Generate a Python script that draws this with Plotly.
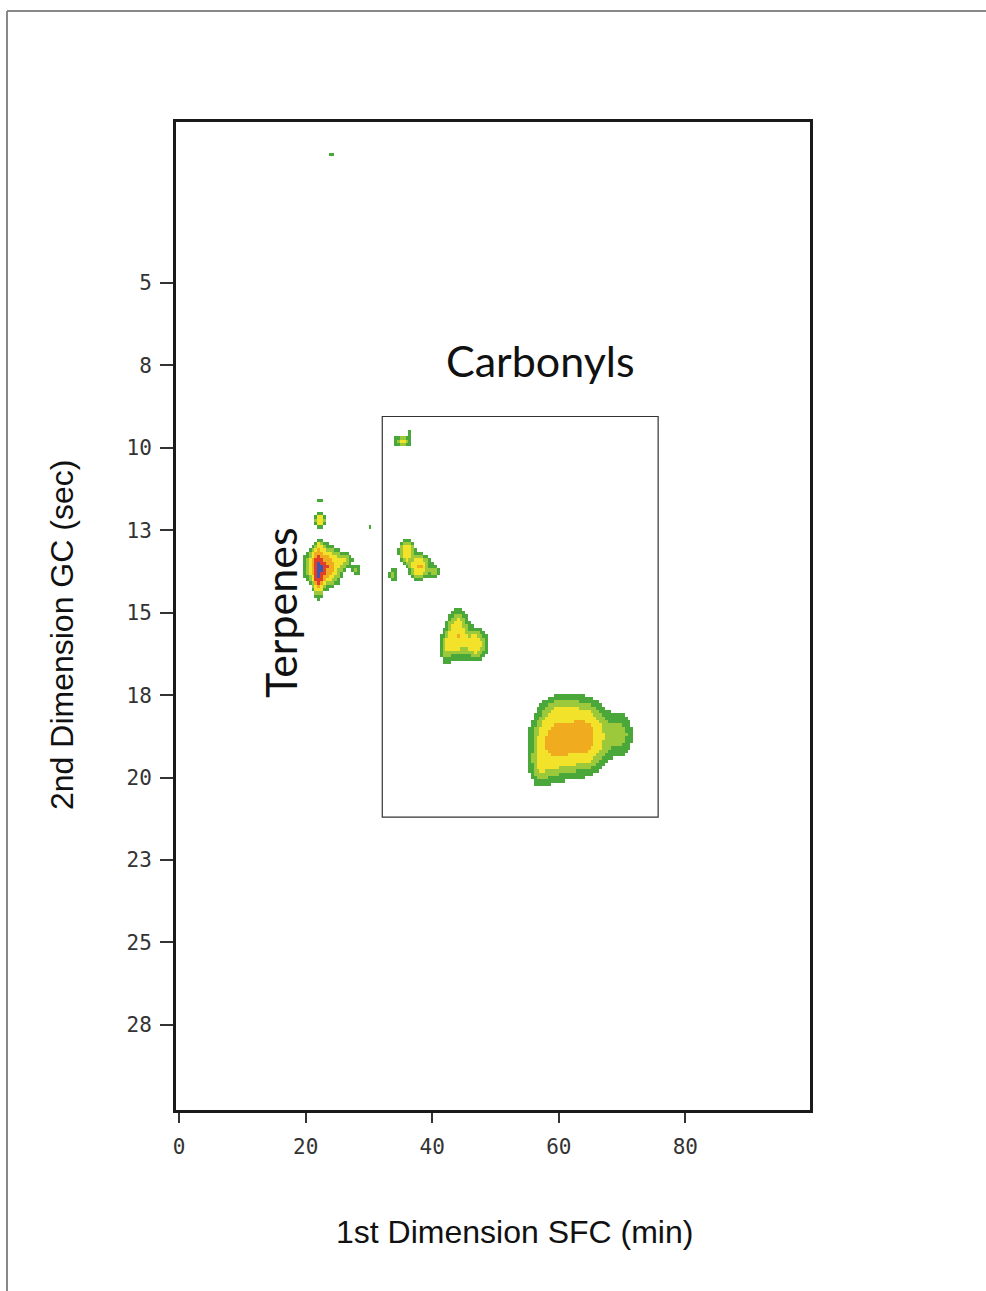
import numpy as np
import plotly.graph_objects as go

# ---------------- data ----------------
# chromatographic peaks: centre on 1st dim (min), centre on 2nd dim (sec), height, width x, width y
peak_x = [22.0, 22.8, 26.0, 28.0, 22.2, 22.3, 22.2, 30.2, 24.2,
          35.3, 36.4,
          36.0, 38.0, 33.8, 40.3,
          44.0, 46.8, 42.2,
          59.5, 64.0, 69.5, 57.0, 60.5]
peak_y = [13.75, 13.6, 13.4, 13.7, 13.0, 12.2, 11.6, 12.4, 1.06,
          9.8, 9.55,
          13.15, 13.6, 13.85, 13.75,
          15.65, 15.95, 16.05,
          18.9, 18.75, 18.7, 19.7, 17.95]
peak_h = [1.05, 0.9, 0.18, 0.13, 0.22, 0.42, 0.1, 0.09, 0.1,
          0.26, 0.1,
          0.45, 0.5, 0.16, 0.18,
          0.45, 0.35, 0.22,
          0.6, 0.6, 0.17, 0.15, 0.12]
peak_sx = [0.45, 1.4, 0.9, 0.5, 0.35, 0.45, 0.3, 0.35, 0.55,
           0.85, 0.3,
           0.65, 0.85, 0.45, 0.45,
           0.95, 1.05, 0.65,
           2.0, 2.0, 1.4, 1.0, 1.6]
peak_sy = [0.35, 0.3, 0.14, 0.09, 0.11, 0.11, 0.05, 0.05, 0.05,
           0.09, 0.05,
           0.2, 0.2, 0.14, 0.14,
           0.38, 0.27, 0.27,
           0.55, 0.55, 0.4, 0.35, 0.28]

level_edges = [0.05, 0.12, 0.22, 0.45, 0.8, 1.35]
level_colors = ["#4aa83a", "#9cc83c", "#f2e22a", "#f0ac1e", "#e0402a", "#3a58b4"]

x_ticks = [0, 20, 40, 60, 80]
y_tickvals = [5, 7.5, 10, 12.5, 15, 17.5, 20, 22.5, 25, 27.5]
y_ticktext = ["5", "8", "10", "13", "15", "18", "20", "23", "25", "28"]

# ---------------- field ----------------
gx = np.arange(0, 100, 0.45)
gy = np.arange(0, 30.5, 0.1)
X, Y = np.meshgrid(gx, gy)
Z = np.zeros_like(X)
for cx, cy, h, sx, sy in zip(peak_x, peak_y, peak_h, peak_sx, peak_sy):
    Z += h * np.exp(-0.5 * (((X - cx) / sx) ** 2 + ((Y - cy) / sy) ** 2))

L = np.full(Z.shape, np.nan)
for i, e in enumerate(level_edges):
    L[Z >= e] = i

n = len(level_colors)
cs = []
for i, c in enumerate(level_colors):
    cs.append([i / n, c])
    cs.append([(i + 1) / n, c])

fig = go.Figure()
fig.add_trace(go.Heatmap(
    x=gx, y=gy, z=L, colorscale=cs, zmin=-0.5, zmax=n - 0.5,
    showscale=False, zsmooth=False, hoverinfo="skip"))

axis_font = dict(family="DejaVu Sans Mono", size=21, color="#333333")
fig.update_xaxes(range=[-0.5, 99.7], tickvals=x_ticks, ticks="outside", ticklen=10,
                 tickwidth=2, tickcolor="#333", showline=True, linewidth=3,
                 linecolor="#1a1a1a", mirror=True, showgrid=False, zeroline=False,
                 tickfont=axis_font, ticklabelstandoff=6)
fig.update_yaxes(range=[30.08, 0.12], tickvals=y_tickvals, ticktext=y_ticktext,
                 ticks="outside", ticklen=13, tickwidth=2, tickcolor="#333",
                 showline=True, linewidth=3, linecolor="#1a1a1a", mirror=True,
                 showgrid=False, zeroline=False, tickfont=axis_font,
                 ticklabelstandoff=4)

def px(xp):
    return (xp - 176) / 634

def py(yp):
    return (1110 - yp) / 988

shapes = [
    dict(type="rect", xref="x", yref="y", x0=32.1, x1=75.7, y0=9.05, y1=21.2,
         line=dict(color="#333", width=1.2)),
    dict(type="line", xref="paper", yref="paper",
         x0=px(7), x1=px(986), y0=py(11), y1=py(11),
         line=dict(color="#888", width=2)),
    dict(type="line", xref="paper", yref="paper",
         x0=px(7), x1=px(7), y0=py(11), y1=py(1291),
         line=dict(color="#888", width=2)),
]

annots = [
    dict(text="Carbonyls", x=px(540), y=py(360)),
    dict(text="Terpenes", x=px(280), y=py(613), textangle=-90),
    dict(text="1st Dimension SFC (min)", x=px(514), y=py(1232),
         font=dict(family="Liberation Sans", size=32, color="#111")),
    dict(text="2nd Dimension GC (sec)", x=px(62), y=py(635), textangle=-90,
         font=dict(family="Liberation Sans", size=32, color="#111")),
]
for a in annots:
    a.update(xref="paper", yref="paper", showarrow=False,
             xanchor="center", yanchor="middle")
    a.setdefault("font", dict(family="Lato", size=43, color="#111"))

fig.update_layout(width=986, height=1291,
                  margin=dict(l=176, r=176, t=122, b=181),
                  paper_bgcolor="white", plot_bgcolor="white",
                  shapes=shapes, annotations=annots, showlegend=False)

fig.write_html("out.html")
